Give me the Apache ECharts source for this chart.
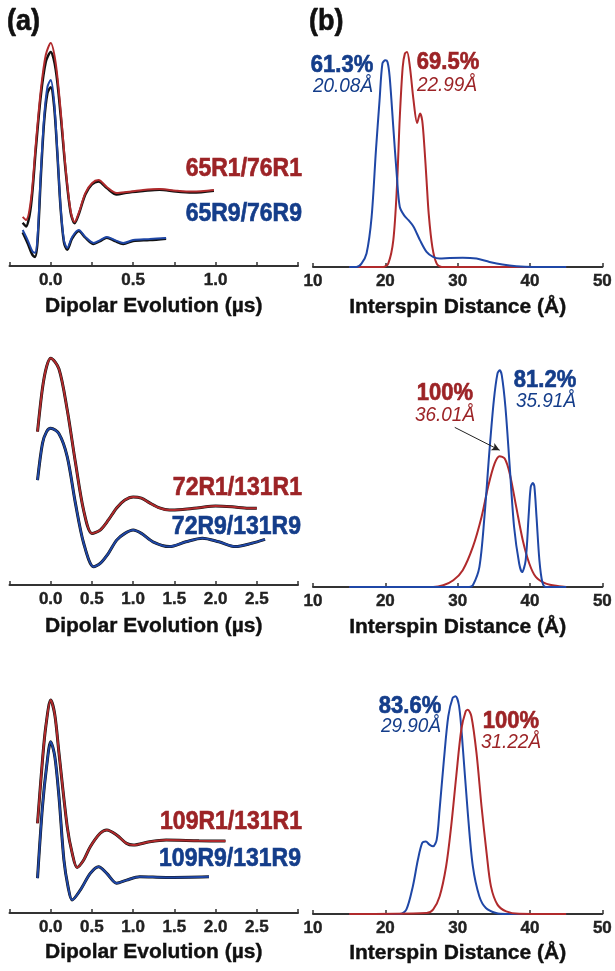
<!DOCTYPE html>
<html>
<head>
<meta charset="utf-8">
<script src="https://cdn.jsdelivr.net/npm/echarts@6/dist/echarts.min.js"></script>
<style>
  html, body { margin: 0; padding: 0; background: #fff; }
  #chart { width: 615px; height: 971px; }
</style>
</head>
<body>
<div id="chart"></div>
<script>
// ---- time domain (a), [t in us, normalized signal] ----
var a1Red = [[-0.17,0.205],[-0.15,0.192],[-0.12,0.275],[-0.09,0.512],[-0.06,0.733],[-0.03,0.879],[0,0.929],[0.03,0.846],[0.06,0.65],[0.09,0.41],[0.12,0.233],[0.145,0.183],[0.17,0.221],[0.21,0.304],[0.25,0.345],[0.29,0.358],[0.34,0.329],[0.40,0.304],[0.46,0.308],[0.56,0.317],[0.66,0.321],[0.76,0.314],[0.86,0.31],[0.99,0.317]];
var a1RedRaw = [[-0.17,0.18],[-0.15,0.165],[-0.12,0.25],[-0.09,0.49],[-0.06,0.71],[-0.03,0.85],[0,0.892],[0.03,0.82],[0.06,0.63],[0.09,0.40],[0.12,0.225],[0.145,0.178],[0.17,0.215],[0.21,0.298],[0.25,0.34],[0.29,0.352],[0.34,0.325],[0.40,0.298],[0.46,0.305],[0.56,0.312],[0.66,0.318],[0.76,0.31],[0.86,0.306],[0.99,0.314]];
var a1Blue = [[-0.17,0.15],[-0.14,0.108],[-0.11,0.06],[-0.095,0.055],[-0.08,0.12],[-0.06,0.39],[-0.04,0.62],[-0.02,0.746],[0,0.775],[0.02,0.69],[0.04,0.48],[0.06,0.246],[0.08,0.108],[0.10,0.075],[0.13,0.121],[0.17,0.15],[0.21,0.121],[0.26,0.096],[0.30,0.108],[0.34,0.121],[0.39,0.108],[0.44,0.096],[0.50,0.108],[0.60,0.112],[0.70,0.117]];
var a1BlueRaw = [[-0.17,0.14],[-0.14,0.095],[-0.11,0.045],[-0.095,0.038],[-0.08,0.10],[-0.06,0.37],[-0.04,0.60],[-0.02,0.72],[0,0.745],[0.02,0.67],[0.04,0.47],[0.06,0.24],[0.08,0.10],[0.10,0.068],[0.13,0.115],[0.17,0.146],[0.21,0.118],[0.26,0.092],[0.30,0.104],[0.34,0.118],[0.39,0.104],[0.44,0.092],[0.50,0.104],[0.60,0.108],[0.70,0.114]];

var a2Red = [[-0.16,0.639],[-0.1,0.82],[-0.05,0.91],[0,0.945],[0.1,0.90],[0.2,0.73],[0.3,0.51],[0.4,0.31],[0.5,0.215],[0.6,0.229],[0.7,0.271],[0.8,0.321],[0.9,0.354],[1.0,0.367],[1.1,0.362],[1.2,0.342],[1.32,0.321],[1.44,0.312],[1.6,0.315],[1.8,0.322],[2.0,0.329],[2.2,0.326],[2.4,0.32],[2.5,0.32]];
var a2Blue = [[-0.16,0.437],[-0.1,0.59],[-0.05,0.639],[0,0.653],[0.1,0.63],[0.2,0.535],[0.3,0.34],[0.4,0.174],[0.52,0.076],[0.6,0.09],[0.7,0.132],[0.8,0.187],[0.9,0.215],[1.0,0.229],[1.1,0.215],[1.24,0.18],[1.44,0.16],[1.64,0.18],[1.84,0.195],[2.04,0.18],[2.24,0.16],[2.44,0.174],[2.6,0.19]];

var a3Red = [[-0.16,0.374],[-0.1,0.637],[-0.06,0.776],[0,0.887],[0.05,0.825],[0.1,0.667],[0.2,0.36],[0.26,0.25],[0.32,0.19],[0.4,0.221],[0.48,0.276],[0.6,0.332],[0.68,0.346],[0.8,0.325],[0.92,0.29],[1.0,0.283],[1.2,0.297],[1.4,0.304],[1.8,0.301],[2.12,0.3]];
var a3Blue = [[-0.16,0.145],[-0.1,0.443],[-0.05,0.61],[0,0.714],[0.05,0.651],[0.1,0.485],[0.16,0.221],[0.21,0.11],[0.26,0.054],[0.36,0.096],[0.48,0.165],[0.58,0.193],[0.68,0.165],[0.8,0.124],[0.92,0.137],[1.08,0.151],[1.4,0.148],[1.92,0.151]];

// ---- distance distributions (b), [r in A, normalized P(r)] ----
var b1Blue = [[15,0],[16,0],[16.7,0.014],[17.4,0.056],[18.1,0.208],[18.7,0.486],[19.2,0.694],[19.6,0.848],[20.0,0.861],[20.3,0.854],[20.6,0.792],[21.1,0.583],[21.6,0.375],[22.0,0.25],[22.6,0.215],[23.2,0.195],[23.9,0.168],[24.8,0.111],[25.7,0.063],[26.6,0.042],[27.5,0.035],[28.9,0.038],[30.7,0.039],[32.6,0.035],[34.4,0.021],[36.2,0.01],[38.1,0.003],[40.4,0],[45,0]];
var b1Red = [[15,0],[19.7,0],[20.4,0.014],[21.1,0.111],[21.6,0.333],[22.0,0.625],[22.4,0.833],[22.7,0.889],[23.0,0.896],[23.4,0.833],[23.9,0.694],[24.4,0.6],[24.8,0.64],[25.1,0.61],[25.4,0.5],[25.7,0.36],[26.0,0.22],[26.5,0.083],[27.1,0.014],[27.8,0],[45,0]];

var b2Red = [[15,0],[26.6,0],[28.0,0.007],[29.4,0.028],[30.7,0.07],[32.1,0.167],[33.3,0.292],[34.2,0.417],[35.1,0.514],[35.8,0.545],[36.5,0.535],[37.2,0.472],[38.1,0.333],[39.0,0.195],[39.9,0.098],[40.8,0.042],[42.2,0.014],[44.0,0.003],[45,0]];
var b2Blue = [[15,0],[31.6,0],[32.1,0.007],[33.0,0.083],[33.7,0.292],[34.4,0.57],[35.0,0.778],[35.5,0.889],[35.8,0.903],[36.1,0.882],[36.6,0.75],[37.2,0.5],[37.8,0.25],[38.5,0.098],[38.9,0.062],[39.4,0.111],[39.8,0.292],[40.1,0.417],[40.4,0.433],[40.6,0.42],[40.9,0.292],[41.3,0.111],[41.7,0.021],[42.2,0],[45,0]];

var b3Blue = [[15,0],[22.0,0],[22.9,0.018],[23.8,0.115],[24.5,0.226],[25.1,0.296],[25.6,0.302],[26.1,0.289],[26.6,0.282],[27.1,0.31],[27.5,0.435],[28.1,0.643],[28.7,0.823],[29.3,0.9],[29.7,0.907],[30.2,0.865],[30.7,0.698],[31.4,0.421],[32.1,0.198],[33.0,0.073],[33.9,0.025],[35.3,0.004],[36.7,0],[45,0]];
var b3Red = [[15,0],[25.7,0.004],[26.6,0.018],[27.5,0.073],[28.4,0.198],[29.1,0.365],[29.8,0.573],[30.5,0.768],[31.1,0.844],[31.4,0.851],[31.9,0.823],[32.6,0.671],[33.3,0.448],[34.0,0.254],[34.6,0.115],[35.5,0.039],[36.7,0.011],[38.5,0.001],[45,0]];

// arrow in panel b2: tail and head in data coords
var b2Arrow = [[29.6,0.665],[35.8,0.57]];

// tick labels
var ticksA1 = [0, 0.5, 1.0];
var ticksA23 = [0, 0.5, 1.0, 1.5, 2.0, 2.5];

var RED = '#b02a2c', BLUE = '#1f47a6';
var RED_T = '#9c2326', BLUE_T = '#143d8a';
var FONT = '"Liberation Sans", Arial, sans-serif';

var chart = echarts.init(document.getElementById('chart'));

// grid rows: bottom line at axis y
var axisYA = [266, 585, 913];
var axisYB = [267, 587, 914];
var H = 240;

var grids = [];
for (var i = 0; i < 3; i++) {
    grids.push({ left: 9.5, width: 288.5, top: axisYA[i] - H, height: H });
    grids.push({ left: 313, width: 290, top: axisYB[i] - H, height: H });
}

var tickLabel = {
    fontSize: 17, fontWeight: 'bold', color: '#222', margin: 6, fontFamily: FONT,
    textBorderColor: '#222', textBorderWidth: 0.4
};
var nameStyle = {
    fontSize: 21, fontWeight: 'bold', color: '#111', fontFamily: FONT,
    textBorderColor: '#111', textBorderWidth: 0.4
};

function xAxisA(g, max, interval, shown, gap) {
    return {
        type: 'value', gridIndex: g, min: -interval, max: max, interval: interval,
        name: 'Dipolar Evolution (µs)', nameLocation: 'middle', nameGap: gap,
        nameTextStyle: nameStyle,
        axisLine: { lineStyle: { color: '#333', width: 2 } },
        axisTick: { inside: true, length: 4, lineStyle: { color: '#333', width: 1.5 } },
        splitLine: { show: false },
        axisLabel: Object.assign({}, tickLabel, {
            formatter: function(v) {
                for (var k = 0; k < shown.length; k++) {
                    if (Math.abs(shown[k] - v) < 1e-6) return v.toFixed(1);
                }
                return '';
            }
        })
    };
}

function xAxisB(g, gap) {
    return {
        type: 'value', gridIndex: g, min: 10, max: 50, interval: 10,
        name: 'Interspin Distance (Å)', nameLocation: 'middle', nameGap: gap,
        nameTextStyle: nameStyle,
        axisLine: { lineStyle: { color: '#333', width: 2 } },
        axisTick: { inside: true, length: 4, lineStyle: { color: '#333', width: 1.5 } },
        splitLine: { show: false },
        axisLabel: tickLabel
    };
}

var xAxes = [
    xAxisA(0, 1.5, 0.25, ticksA1, 30), xAxisB(1, 30),
    xAxisA(2, 3.0, 0.5, ticksA23, 31), xAxisB(3, 30),
    xAxisA(4, 3.0, 0.5, ticksA23, 29), xAxisB(5, 29)
];
var yAxes = [];
for (var j = 0; j < 6; j++) {
    yAxes.push({ type: 'value', gridIndex: j, min: 0, max: 1, show: false });
}

function line(idx, data, color, width, z) {
    return {
        type: 'line', xAxisIndex: idx, yAxisIndex: idx, data: data,
        showSymbol: false, smooth: 0.3, z: z || 2,
        lineStyle: { color: color, width: width },
        silent: true, animation: false
    };
}

var series = [
    // a1
    line(0, a1RedRaw, '#111', 2.5, 2), line(0, a1Red, RED, 2, 3),
    line(0, a1BlueRaw, '#111', 2.5, 2), line(0, a1Blue, BLUE, 2, 3),
    // b1
    line(1, b1Red, RED, 2, 2), line(1, b1Blue, BLUE, 2, 3),
    // a2
    line(2, a2Red, '#111', 3, 2), line(2, a2Red, RED, 2, 3),
    line(2, a2Blue, '#111', 3, 2), line(2, a2Blue, BLUE, 2, 3),
    // b2
    line(3, b2Red, RED, 2, 2), line(3, b2Blue, BLUE, 2, 3),
    // a3
    line(4, a3Red, '#111', 3, 2), line(4, a3Red, RED, 2, 3),
    line(4, a3Blue, '#111', 3, 2), line(4, a3Blue, BLUE, 2, 3),
    // b3
    line(5, b3Blue, BLUE, 2, 2), line(5, b3Red, RED, 2, 3)
];

// arrow pointing to the red peak in b2
series.push({
    type: 'line', xAxisIndex: 3, yAxisIndex: 3, data: [], silent: true,
    markLine: {
        silent: true, symbol: ['none', 'arrow'], symbolSize: [6, 8],
        label: { show: false },
        lineStyle: { color: '#222', width: 1, type: 'solid' },
        data: [[{ coord: b2Arrow[0] }, { coord: b2Arrow[1] }]]
    }
});

function txt(x, y, s, color, font, align, heavy) {
    var st = { text: s, fill: color, font: font, align: align || 'center', verticalAlign: 'middle' };
    if (heavy) { st.stroke = color; st.lineWidth = 0.6; }
    return { type: 'text', x: x, y: y, silent: true, scaleY: 1.1, style: st };
}
var bold23 = 'bold 23px ' + FONT;
var bold22 = 'bold 22px ' + FONT;
var ital = 'italic 19px ' + FONT;

var texts = [
    txt(7, 22, '(a)', '#111', 'bold 27px ' + FONT, 'left', true),
    txt(309, 22, '(b)', '#111', 'bold 27px ' + FONT, 'left', true),
    // series names
    txt(302, 169, '65R1/76R1', RED_T, bold23, 'right', true),
    txt(302, 214, '65R9/76R9', BLUE_T, bold23, 'right', true),
    txt(302, 488, '72R1/131R1', RED_T, bold23, 'right', true),
    txt(301, 527, '72R9/131R9', BLUE_T, bold23, 'right', true),
    txt(302, 822, '109R1/131R1', RED_T, bold23, 'right', true),
    txt(301, 859, '109R9/131R9', BLUE_T, bold23, 'right', true),
    // percentages and mean distances
    txt(342, 65, '61.3%', BLUE_T, bold22, 'center', true), txt(343, 86, '20.08Å', BLUE_T, ital),
    txt(448, 62, '69.5%', RED_T, bold22, 'center', true), txt(447, 85, '22.99Å', RED_T, ital),
    txt(445, 393, '100%', RED_T, bold22, 'center', true), txt(445, 415, '36.01Å', RED_T, ital),
    txt(545, 380, '81.2%', BLUE_T, bold22, 'center', true), txt(546, 401, '35.91Å', BLUE_T, ital),
    txt(410, 706, '83.6%', BLUE_T, bold22, 'center', true), txt(411, 726, '29.90Å', BLUE_T, ital),
    txt(511, 721, '100%', RED_T, bold22, 'center', true), txt(511, 742, '31.22Å', RED_T, ital)
];

chart.setOption({
    animation: false,
    backgroundColor: '#fff',
    grid: grids,
    xAxis: xAxes,
    yAxis: yAxes,
    series: series,
    graphic: texts
});
</script>
</body>
</html>
